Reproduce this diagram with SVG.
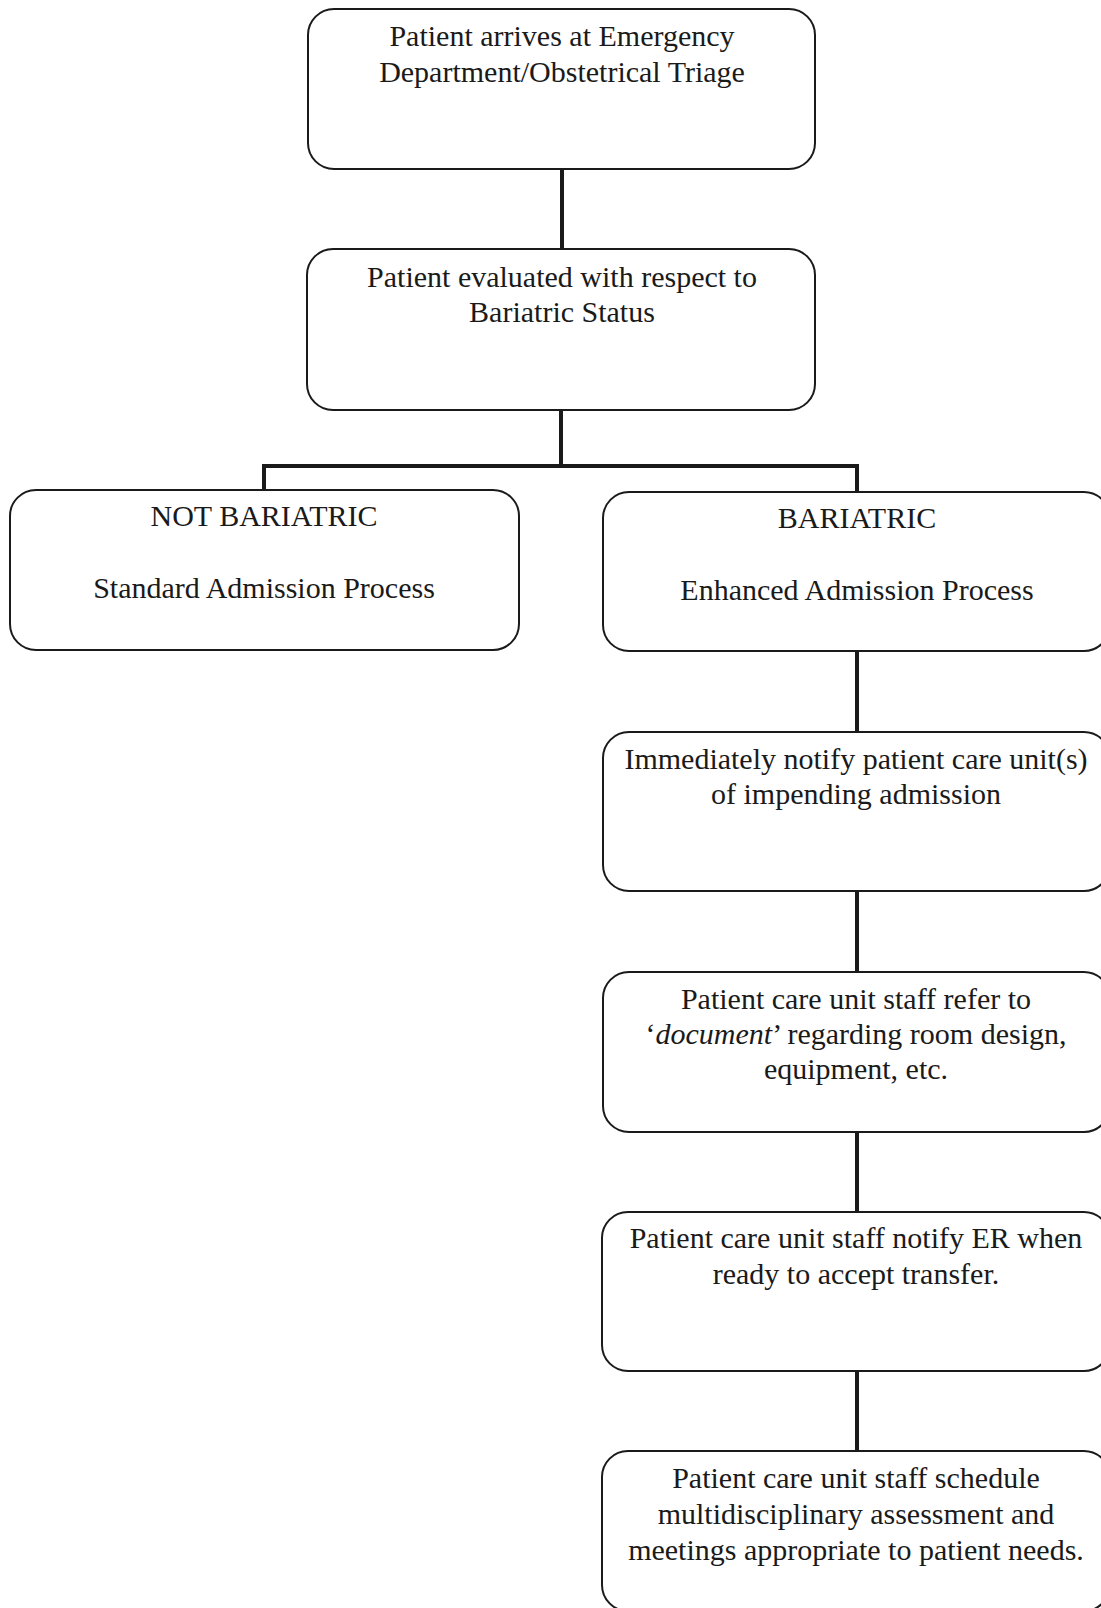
<svg xmlns="http://www.w3.org/2000/svg" width="1101" height="1608" viewBox="0 0 1101 1608">
<style>
.box{fill:#fff;stroke:#1a1a1a;stroke-width:2}
.t{font-family:"Liberation Serif","Times New Roman",serif;font-size:30px;fill:#1a1a1a;text-anchor:middle}
.c{fill:none;stroke:#1a1a1a;stroke-width:4}
</style>
<rect width="1101" height="1608" fill="#fff"/>
<g id="connectors">
<line class="c" x1="562" y1="169" x2="562" y2="249"/>
<path class="c" d="M561 410 V466 M264 490 V466 H857 V492"/>
<line class="c" x1="857" y1="651" x2="857" y2="732"/>
<line class="c" x1="857" y1="891" x2="857" y2="972"/>
<line class="c" x1="857" y1="1132" x2="857" y2="1212"/>
<line class="c" x1="857" y1="1371" x2="857" y2="1451"/>
</g>
<g id="n1">
<rect class="box" x="308" y="9" width="507" height="160" rx="26"/>
<text class="t" x="562" y="46">Patient arrives at Emergency</text>
<text class="t" x="562" y="82">Department/Obstetrical Triage</text>
</g>
<g id="n2">
<rect class="box" x="307" y="249" width="508" height="161" rx="26"/>
<text class="t" x="562" y="287">Patient evaluated with respect to</text>
<text class="t" x="562" y="322">Bariatric Status</text>
</g>
<g id="n3">
<rect class="box" x="10" y="490" width="509" height="160" rx="26"/>
<text class="t" x="264" y="526">NOT BARIATRIC</text>
<text class="t" x="264" y="598">Standard Admission Process</text>
</g>
<g id="n4">
<rect class="box" x="603" y="492" width="507" height="159" rx="26"/>
<text class="t" x="857" y="528">BARIATRIC</text>
<text class="t" x="857" y="600">Enhanced Admission Process</text>
</g>
<g id="n5">
<rect class="box" x="603" y="732" width="507" height="159" rx="26"/>
<text class="t" x="856" y="769">Immediately notify patient care unit(s)</text>
<text class="t" x="856" y="804">of impending admission</text>
</g>
<g id="n6">
<rect class="box" x="603" y="972" width="507" height="160" rx="26"/>
<text class="t" x="856" y="1009">Patient care unit staff refer to</text>
<text class="t" x="856" y="1044">‘<tspan font-style="italic">document</tspan>’ regarding room design,</text>
<text class="t" x="856" y="1079">equipment, etc.</text>
</g>
<g id="n7">
<rect class="box" x="602" y="1212" width="508" height="159" rx="26"/>
<text class="t" x="856" y="1248">Patient care unit staff notify ER when</text>
<text class="t" x="856" y="1284">ready to accept transfer.</text>
</g>
<g id="n8">
<rect class="box" x="602" y="1451" width="508" height="160" rx="26"/>
<text class="t" x="856" y="1488">Patient care unit staff schedule</text>
<text class="t" x="856" y="1524">multidisciplinary assessment and</text>
<text class="t" x="856" y="1560">meetings appropriate to patient needs.</text>
</g>
</svg>
